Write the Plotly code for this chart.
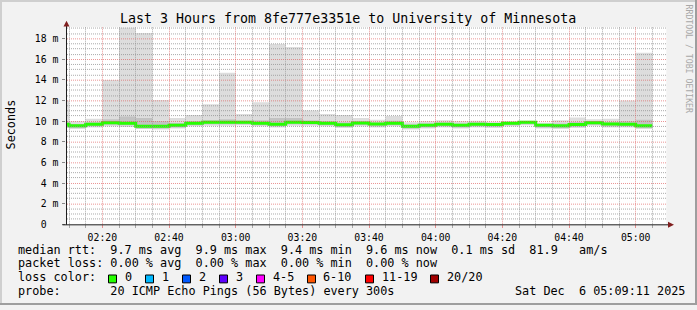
import math
import plotly.graph_objects as go
import pandas as pd

# ---------------- data ----------------
DAY = "2025-12-06 "
bar_starts = ["02:05", "02:10", "02:15", "02:20", "02:25", "02:30", "02:35", "02:40", "02:45",
              "02:50", "02:55", "03:00", "03:05", "03:10", "03:15", "03:20", "03:25", "03:30",
              "03:35", "03:40", "03:45", "03:50", "03:55", "04:00", "04:05", "04:10", "04:15",
              "04:20", "04:25", "04:30", "04:35", "04:40", "04:45", "04:50", "04:55", "05:00"]
last_end = "05:05"

# RTT values in ms
rtt_median = [9.70, 9.55, 9.70, 9.85, 9.80, 9.50, 9.50, 9.60, 9.80, 9.90, 9.90, 9.90,
              9.80, 9.70, 9.90, 9.88, 9.80, 9.65, 9.83, 9.72, 9.80, 9.50, 9.60, 9.70,
              9.60, 9.70, 9.68, 9.80, 9.90, 9.60, 9.55, 9.68, 9.85, 9.72, 9.70, 9.55]
rtt_max = [12.0, 10.0, 10.25, 14.0, 19.1, 18.55, 12.05, 10.3, 10.6, 11.65, 14.7, 10.7,
           11.85, 17.5, 17.2, 11.05, 10.7, 10.6, 10.3, 10.15, 10.5, 9.9, 10.0, 10.1,
           10.0, 10.05, 9.95, 10.0, 10.05, 9.85, 10.1, 10.35, 10.2, 10.25, 12.0, 16.65]
rtt_min = [9.35, 9.25, 9.40, 9.50, 9.45, 9.25, 9.20, 9.30, 9.50, 9.55, 9.55, 9.60,
           9.50, 9.40, 9.55, 9.55, 9.50, 9.35, 9.50, 9.40, 9.50, 9.20, 9.30, 9.40,
           9.30, 9.40, 9.35, 9.50, 9.60, 9.30, 9.25, 9.35, 9.55, 9.40, 9.40, 9.25]
smoke_lo = [9.50, 9.35, 9.50, 9.65, 9.60, 9.30, 9.30, 9.40, 9.60, 9.70, 9.70, 9.70,
            9.60, 9.50, 9.70, 9.68, 9.60, 9.45, 9.63, 9.52, 9.60, 9.30, 9.40, 9.50,
            9.40, 9.50, 9.47, 9.60, 9.70, 9.40, 9.35, 9.47, 9.65, 9.52, 9.50, 9.35]
smoke_hi = [9.95, 9.72, 9.90, 10.2, 10.45, 10.3, 10.0, 9.82, 10.0, 10.1, 10.2, 10.05,
            10.1, 10.3, 10.3, 10.1, 10.0, 9.9, 9.98, 9.88, 10.05, 9.68, 9.78, 9.88,
            9.78, 9.88, 9.83, 9.93, 10.02, 9.72, 9.78, 9.92, 10.02, 9.92, 10.0, 10.15]

y_tickvals = [0, 2, 4, 6, 8, 10, 12, 14, 16, 18]
y_ticktext = ["0\u00a0\u00a0", "2 m", "4 m", "6 m", "8 m", "10 m", "12 m", "14 m", "16 m", "18 m"]

title_text = "Last 3 Hours from 8fe777e3351e to University of Minnesota"
row_rtt = "median rtt:  9.7 ms avg  9.9 ms max  9.4 ms min  9.6 ms now  0.1 ms sd  81.9   am/s"
row_loss = "packet loss: 0.00 % avg  0.00 % max  0.00 % min  0.00 % now"
loss_labels = ["0", "1", "2", "3", "4-5", "6-10", "11-19", "20/20"]
loss_colors = ["#26ff00", "#00b8ff", "#0059ff", "#5e00ff", "#ff00ff", "#ff5500", "#ff0000", "#a10000"]
probe_text = "probe:       20 ICMP Echo Pings (56 Bytes) every 300s"
date_text = "Sat Dec  6 05:09:11 2025"

# ---------------- layout helpers ----------------
W, H = 697, 310
def px(x):
    return x / W
def py(y):
    return 1 - y / H
def nb(s):
    return s.replace(" ", "\u00a0")

MONO = "DejaVu Sans Mono"
X0_PX, X1_PX = 66.3, 666.3
YB_PX, YT_PX = 228.0, 27.3
YSCALE = 10.48
Y_TOP = (YB_PX - YT_PX) / YSCALE
t_start = pd.Timestamp(DAY + "02:09:11")
t_end = pd.Timestamp(DAY + "05:09:11")
XSCALE = (X1_PX - X0_PX) / (t_end - t_start).total_seconds()

starts = [pd.Timestamp(DAY + s) for s in bar_starts]
step_x = starts + [pd.Timestamp(DAY + last_end)]
step_y = rtt_median + [rtt_median[-1]]
BW = 300000  # 5 min bars, ms

fig = go.Figure()
fig.add_trace(go.Bar(x=starts, base=rtt_min, y=[a - b for a, b in zip(rtt_max, rtt_min)],
                     width=BW, offset=0, marker=dict(color="#dddddd", line=dict(width=0)),
                     hoverinfo="skip"))
fig.add_trace(go.Bar(x=starts, base=smoke_lo, y=[a - b for a, b in zip(smoke_hi, smoke_lo)],
                     width=BW, offset=0, marker=dict(color="#c2c2c2", line=dict(width=0)),
                     hoverinfo="skip"))
fig.add_trace(go.Scatter(x=step_x, y=step_y, mode="lines", line=dict(color="#26ff00", width=3, shape="hv"),
                         hoverinfo="skip"))

shapes = []
GRID = "rgba(143,143,143,0.75)"
MGRID = "rgba(222,79,79,0.6)"
# horizontal grid (snapped to pixel centres)
for i in range(1, 39):
    v = i * 0.5
    if v > Y_TOP:
        break
    major = (i % 4 == 0)
    ypx = math.floor(YB_PX - v * YSCALE) + 0.5
    shapes.append(dict(type="line", xref="paper", yref="paper", x0=px(67), x1=px(X1_PX), y0=py(ypx), y1=py(ypx),
                       line=dict(color=MGRID if major else GRID, width=1, dash="1px,1px"), layer="above"))
# vertical grid
t = pd.Timestamp(DAY + "02:10")
while t < t_end:
    major = (t.minute % 20 == 0)
    xpx = math.floor(X0_PX + (t - t_start).total_seconds() * XSCALE) + 0.5
    shapes.append(dict(type="line", xref="paper", yref="paper", x0=px(xpx), x1=px(xpx), y0=py(228), y1=py(YT_PX),
                       line=dict(color=MGRID if major else GRID, width=1, dash="1px,1px"), layer="above"))
    t += pd.Timedelta(minutes=5)

AX = "rgb(31,31,31)"
ARROW = "rgb(128,31,31)"
# axes lines
shapes.append(dict(type="line", xref="paper", yref="paper", x0=px(62.5), x1=px(669), y0=py(228.5), y1=py(228.5),
                   line=dict(color=AX, width=1), layer="above"))
shapes.append(dict(type="line", xref="paper", yref="paper", x0=px(66.5), x1=px(66.5), y0=py(228.5), y1=py(25),
                   line=dict(color=AX, width=1), layer="above"))
# arrows
shapes.append(dict(type="path", xref="paper", yref="paper",
                   path=f"M {px(66.5)},{py(21)} L {px(63.5)},{py(27)} L {px(69.5)},{py(27)} Z",
                   fillcolor=ARROW, line=dict(width=0), layer="above"))
shapes.append(dict(type="path", xref="paper", yref="paper",
                   path=f"M {px(674)},{py(228.5)} L {px(668)},{py(225.5)} L {px(668)},{py(231.5)} Z",
                   fillcolor=ARROW, line=dict(width=0), layer="above"))
# frame shading
shapes.append(dict(type="rect", xref="paper", yref="paper", x0=0, x1=1, y0=py(2), y1=1,
                   fillcolor="#cfcfcf", line=dict(width=0), layer="above"))
shapes.append(dict(type="rect", xref="paper", yref="paper", x0=0, x1=px(2), y0=0, y1=1,
                   fillcolor="#cfcfcf", line=dict(width=0), layer="above"))
shapes.append(dict(type="rect", xref="paper", yref="paper", x0=0, x1=1, y0=0, y1=py(308),
                   fillcolor="#9e9e9e", line=dict(width=0), layer="above"))
shapes.append(dict(type="rect", xref="paper", yref="paper", x0=px(695), x1=1, y0=0, y1=1,
                   fillcolor="#9e9e9e", line=dict(width=0), layer="above"))

# loss color boxes
box_left = [108.5, 145.5, 182.5, 219.5, 256.5, 307.5, 365.5, 430.5]
label_left = [122.5, 160.0, 196.5, 233.5, 270.5, 320.8, 380.0, 444.8]
for bl, c in zip(box_left, loss_colors):
    shapes.append(dict(type="rect", xref="paper", yref="paper", x0=px(bl), x1=px(bl + 8),
                       y0=py(287.5), y1=py(279.5), fillcolor=c, line=dict(color="black", width=1),
                       layer="above"))

ann = []
def text(x, y, s, size, anchor="left", color="black", angle=0):
    ann.append(dict(x=px(x), y=py(y), xref="paper", yref="paper", text=nb(s), showarrow=False,
                    xanchor=anchor, yanchor="middle", textangle=angle,
                    font=dict(family=MONO, size=size, color=color)))

text(347.8, 18.5, title_text, 13.3, anchor="center")
text(10.5, 127, "Seconds", 11.8, anchor="center", angle=-90)
text(688.5, 60, "RRDTOOL / TOBI OETIKER", 8.2, anchor="center", color="#a8a8a8", angle=90)
text(15.5, 254.3, row_rtt, 11.8)
text(15.5, 267.7, row_loss, 11.8)
text(15.5, 281.7, "loss color:", 11.8)
for ll, lab in zip(label_left, loss_labels):
    text(ll, 281.7, lab, 11.8)
text(15.5, 296, probe_text, 11.8)
text(512.8, 296, date_text, 11.8)

fig.update_layout(
    width=W, height=H, autosize=False,
    margin=dict(l=0, r=0, t=0, b=0),
    paper_bgcolor="#f2f2f2", plot_bgcolor="#ffffff",
    barmode="overlay", showlegend=False,
    shapes=shapes, annotations=ann,
    xaxis=dict(domain=[px(X0_PX), px(X1_PX)], range=[t_start, t_end], type="date",
               showgrid=False, zeroline=False, showline=False,
               tickformat="%H:%M", tick0=DAY + "02:20:00", dtick=1200000,
               ticks="outside", ticklen=3, tickcolor=MGRID, tickwidth=1,
               minor=dict(dtick=300000, tick0=DAY + "02:20:00", ticks="outside", ticklen=3,
                          tickcolor=GRID, showgrid=False),
               ticklabelstandoff=1,
               tickfont=dict(family=MONO, size=9.8, color="black"), fixedrange=True),
    yaxis=dict(domain=[py(YB_PX), py(YT_PX)], range=[0, Y_TOP],
               showgrid=False, zeroline=False, showline=False,
               tickvals=y_tickvals, ticktext=y_ticktext,
               ticks="outside", ticklen=3, tickcolor="#888888", tickwidth=1,
               ticklabelstandoff=2,
               tickfont=dict(family=MONO, size=9.8, color="black"), fixedrange=True),
)

fig.write_html("out.html")
